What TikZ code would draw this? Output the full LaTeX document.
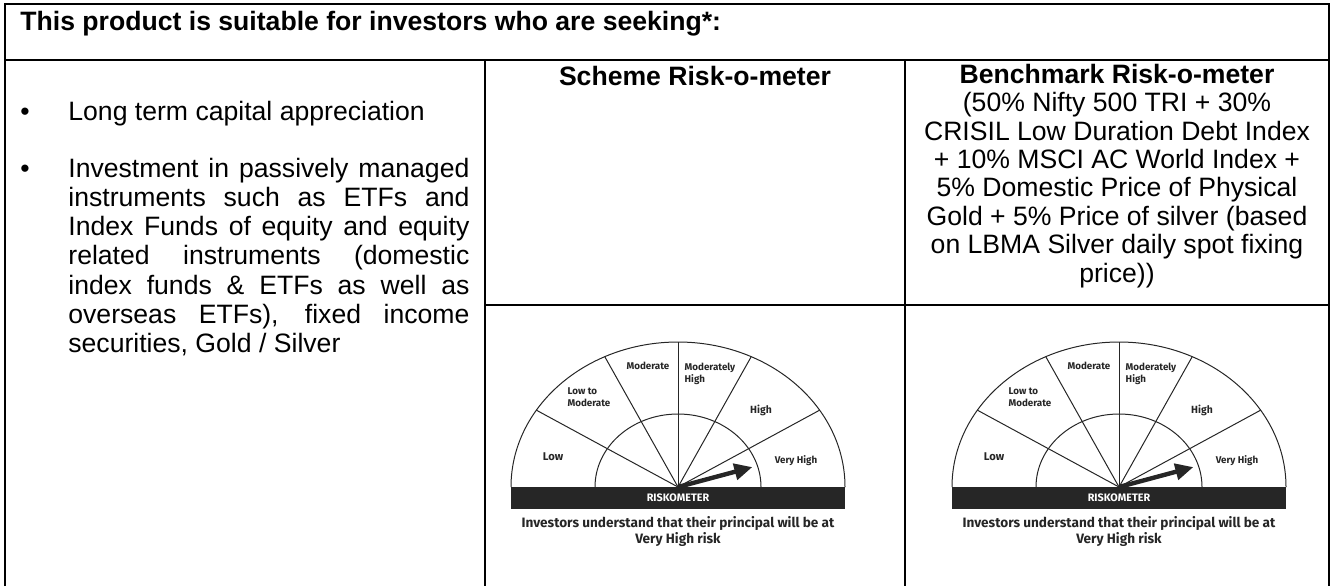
\documentclass[tikz,border=0pt]{standalone}
\usepackage{fontspec}
\setmainfont{Liberation Sans}
\newfontfamily\meterfont{Fira Sans}
\usetikzlibrary{arrows.meta}

\tikzset{
  rule/.style={line width=1pt},
  body/.style={inner sep=0pt, font=\fontsize{13.3}{14.65}\selectfont},
  headtext/.style={inner sep=0pt, font=\bfseries\fontsize{13.3}{14.65}\selectfont},
  zone/.style={inner sep=0pt, text=black!85, align=left,
    font=\meterfont\bfseries\fontsize{4.9}{6}\selectfont},
  meterline/.style={line width=0.5pt, black!85},
  needle/.style={line width=2.2pt, black!85, -{Triangle[length=9pt,width=8pt]}},
}

\begin{document}
\begin{tikzpicture}[x=0.5pt, y=-0.5pt]
\useasboundingbox (0,0) rectangle (1333,586);

% table rules
\draw[rule] (5,586) -- (5,4) -- (1329,4) -- (1329,586);
\draw[rule] (5,60) -- (1329,60);
\draw[rule] (485,60) -- (485,586);
\draw[rule] (905,60) -- (905,586);
\draw[rule] (485,305) -- (1329,305);

% header row
\node[headtext, anchor=base west] (title) at (20,30) {This product is suitable for investors who are seeking*:};

% left column
\node[body, anchor=base] (dot1) at (25,120) {•};
\node[body, anchor=base west] (aim1) at (68,120) {Long term capital appreciation};
\node[body, anchor=base] (dot2) at (25,177) {•};
\node[body, anchor=base west, text width=200.5pt, align=justify] (aim2) at (68,177)
  {Investment in passively managed\linebreak
   instruments such as ETFs and\linebreak
   Index Funds of equity and equity\linebreak
   related instruments (domestic\linebreak
   index funds \& ETFs as well as\linebreak
   overseas ETFs), fixed income\linebreak
   securities, Gold / Silver};

% column heads (base of a multi-line node = its last line)
\node[headtext, anchor=base] (scheme) at (695,85) {Scheme Risk-o-meter};
\node[body, anchor=base, align=center, font=\fontsize{13.3}{14.2}\selectfont] (bench) at (1117,282)
  {\textbf{Benchmark Risk-o-meter}\\
   (50\% Nifty 500 TRI + 30\%\\
   CRISIL Low Duration Debt Index\\
   + 10\% MSCI AC World Index +\\
   5\% Domestic Price of Physical\\
   Gold + 5\% Price of silver (based\\
   on LBMA Silver daily spot fixing\\
   price))};

% riskometers
\foreach \g/\cx in {s/678, b/1119}{
  \begin{scope}[shift={(\cx,487)}, yscale=-1]
    \fill[black!85] (-167,0) rectangle (167,-22);
    \draw[meterline] (167,0) arc[start angle=0, end angle=180, x radius=167, y radius=145];
    \draw[meterline] (83,0) arc[start angle=0, end angle=180, x radius=83, y radius=73];
    \foreach \a in {32,64,90,116,148}
      \draw[meterline] (0,0) -- ({167*cos(\a)},{145*sin(\a)});
    \coordinate (pivot\g) at (0,0);
    \coordinate (tip\g) at (15:77);
    \draw[needle] (pivot\g) -- (tip\g);
    \node[zone, font=\meterfont\bfseries\fontsize{5.6}{6}\selectfont] (low\g) at (-125,30) {Low};
    \node[zone] (lowmod\g) at (-89,90) {Low to\\Moderate};
    \node[zone] (mod\g) at (-30,121) {Moderate};
    \node[zone] (modhigh\g) at (32,113) {Moderately\\High};
    \node[zone, font=\meterfont\bfseries\fontsize{5.2}{6}\selectfont] (high\g) at (83,77) {High};
    \node[zone] (vhigh\g) at (118,26) {Very High};
    \node[zone, text=white, font=\meterfont\bfseries\fontsize{5.4}{6}\selectfont] (bar\g) at (0,-11) {RISKOMETER};
    \node[zone, anchor=base, align=center, font=\meterfont\bfseries\fontsize{6.8}{8}\selectfont] (note\g) at (0,-56)
      {Investors understand that their principal will be at\\Very High risk};
  \end{scope}
}
\end{tikzpicture}
\end{document}
